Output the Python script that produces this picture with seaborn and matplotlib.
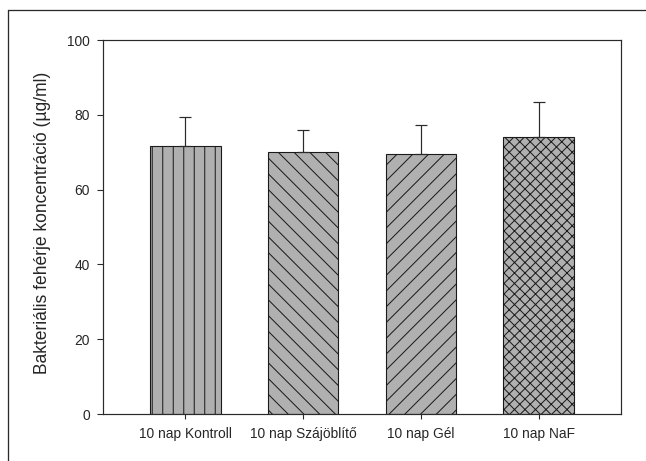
import numpy as np
import pandas as pd
import matplotlib
matplotlib.use("Agg")
import matplotlib.pyplot as plt
import seaborn as sns
from matplotlib.lines import Line2D

categories = ["10 nap Kontroll", "10 nap Szájöblítő", "10 nap Gél", "10 nap NaF"]
means = [71.7, 70.1, 69.6, 74.1]
sds = [7.6, 5.8, 7.7, 9.3]
yticks = [0, 20, 40, 60, 80, 100]
ylabel = "Bakteriális fehérje koncentráció (µg/ml)"

DPI = 189
W, H = 646, 461
def px(v):
    return v * 72.0 / DPI

sns.set_style("white")
plt.rcParams["font.family"] = ["Liberation Sans", "DejaVu Sans"]
plt.rcParams["hatch.linewidth"] = px(1.0)
plt.rcParams["hatch.color"] = "#1a1a1a"

fig = plt.figure(figsize=(W / DPI, H / DPI), dpi=DPI, facecolor="white")
ax = fig.add_axes([103 / W, 1 - 414 / H, (621 - 103) / W, (414 - 40) / H])

df = pd.DataFrame({"cat": categories, "val": means})
sns.barplot(data=df, x="cat", y="val", color="#b0b0b0", saturation=1,
            width=0.6, edgecolor="#1a1a1a", linewidth=px(1.1),
            errorbar=None, ax=ax)

hatches = ["|||", "\\\\\\\\", "////", "xxxxxx"]
for patch, h in zip(ax.patches, hatches):
    patch.set_hatch(h)
    patch.set_edgecolor("#1a1a1a")

ax.errorbar(np.arange(len(categories)), means, yerr=[np.zeros(len(sds)), sds],
            fmt="none", ecolor="#2a2a2a", elinewidth=px(1.2),
            capsize=px(6), capthick=px(1.2), zorder=5)

ax.set_xlim(-0.7, 3.7)
ax.set_ylim(0, 100)
ax.set_yticks(yticks)
ax.set_xlabel("")
ax.set_ylabel(ylabel, fontsize=6.7, va="center")
ax.yaxis.set_label_coords(-0.117, 0.51)

for s in ax.spines.values():
    s.set_visible(True)
    s.set_color("#2a2a2a")
    s.set_linewidth(px(1.2))

ax.tick_params(axis="y", direction="out", length=px(6), width=px(1.1),
               color="#2a2a2a", pad=px(7), labelsize=5.25, left=True)
ax.tick_params(axis="x", direction="out", length=px(5), width=px(1.1),
               color="#2a2a2a", pad=px(8), labelsize=5.25, bottom=True)

# outer frame (top and left edges)
fig.add_artist(Line2D([8 / W, 8 / W], [0, 1 - 10 / H], transform=fig.transFigure,
                      color="#2a2a2a", linewidth=px(1.3)))
fig.add_artist(Line2D([8 / W, 1], [1 - 10 / H, 1 - 10 / H], transform=fig.transFigure,
                      color="#2a2a2a", linewidth=px(1.3)))

fig.savefig("out.png", dpi=DPI, facecolor="white")
